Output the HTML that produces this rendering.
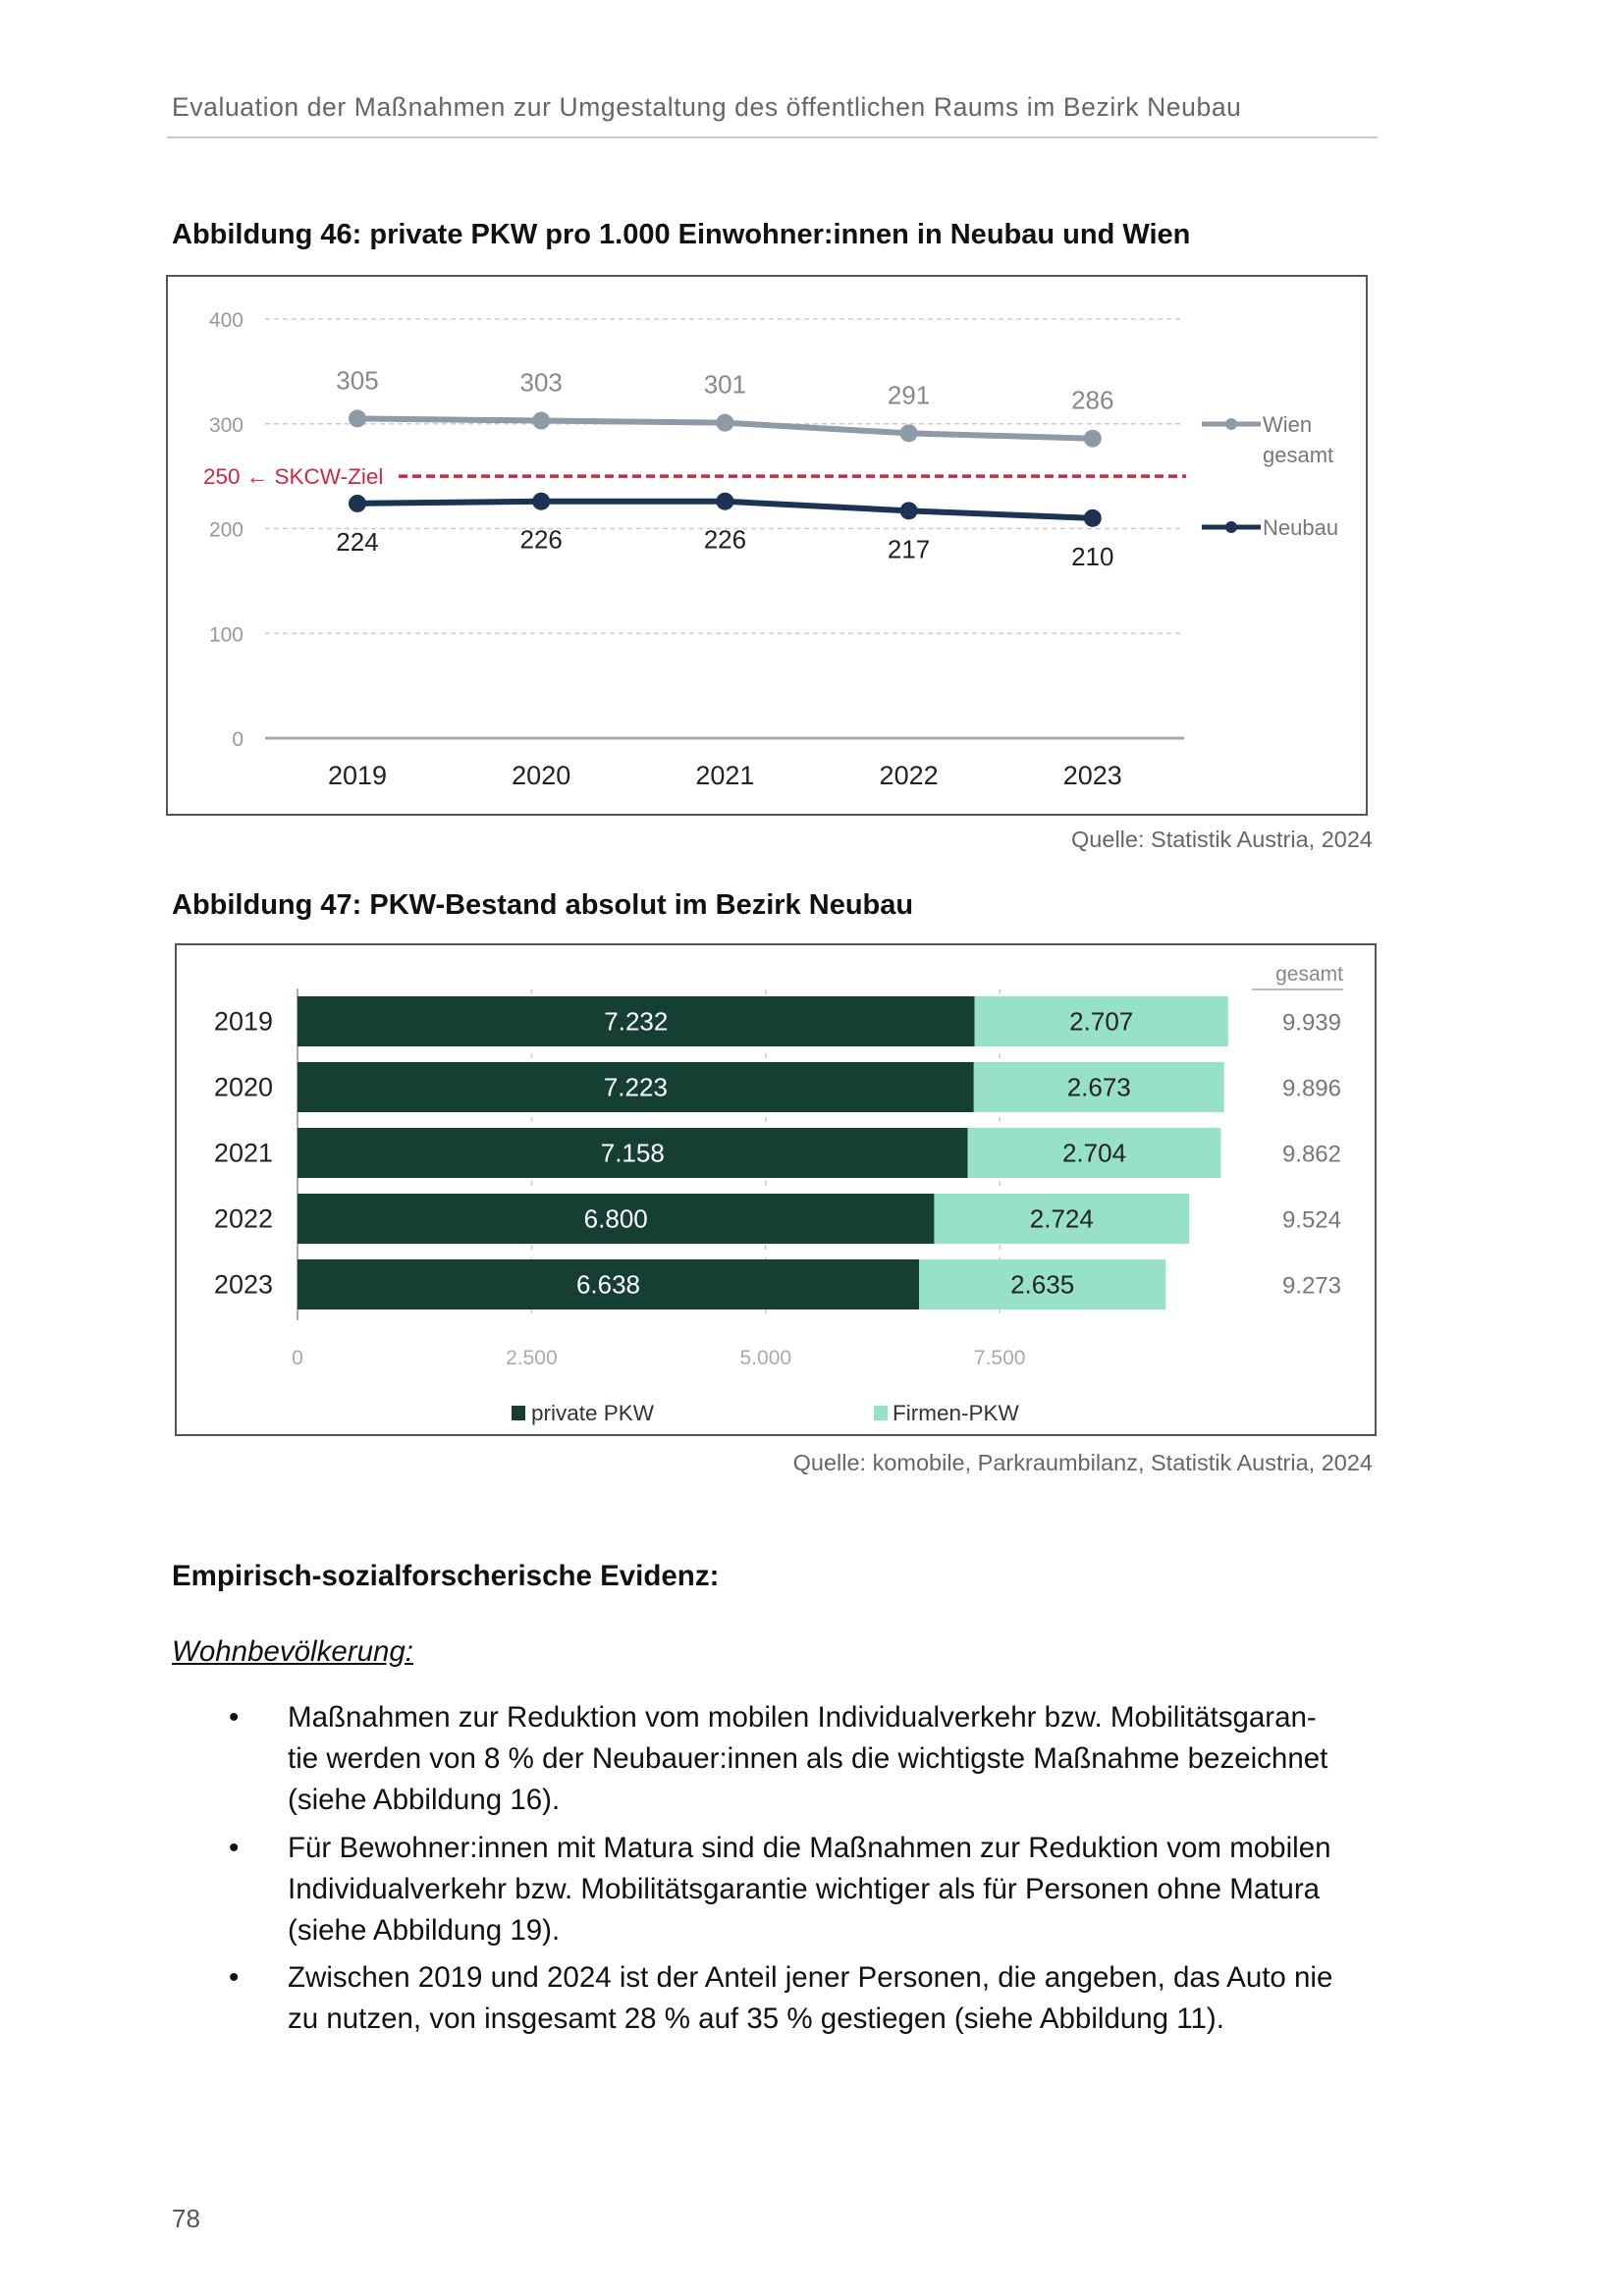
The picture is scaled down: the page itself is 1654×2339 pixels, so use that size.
<!DOCTYPE html>
<html><head><meta charset="utf-8">
<style>
body{margin:0;background:#fff;font-family:"Liberation Sans",sans-serif;}
#page{position:relative;width:1654px;height:2339px;overflow:hidden;background:#fff;}
.abs{position:absolute;white-space:nowrap;}
.body{font-size:29.5px;color:#111;}
</style></head><body>
<div id="page">
<div class="abs" style="left:175px;top:94px;font-size:26.5px;color:#666;letter-spacing:0.6px;">Evaluation der Maßnahmen zur Umgestaltung des öffentlichen Raums im Bezirk Neubau</div>
<div class="abs" style="left:170px;top:139px;width:1233px;height:2px;background:#ccc;"></div>

<div class="abs" style="left:175px;top:223px;font-size:29px;font-weight:bold;color:#111;">Abbildung 46: private PKW pro 1.000 Einwohner:innen in Neubau und Wien</div>
<svg class="abs" id="c1" style="left:0;top:0;" width="1654" height="900"></svg>
<div class="abs" style="right:256px;top:842px;font-size:23.5px;color:#666;">Quelle: Statistik Austria, 2024</div>

<div class="abs" style="left:175px;top:906px;font-size:29px;font-weight:bold;color:#111;">Abbildung 47: PKW-Bestand absolut im Bezirk Neubau</div>
<svg class="abs" id="c2" style="left:0;top:0;" width="1654" height="1500"></svg>
<div class="abs" style="right:256px;top:1477px;font-size:23.5px;color:#666;">Quelle: komobile, Parkraumbilanz, Statistik Austria, 2024</div>

<div class="abs body" style="left:175px;top:1589px;font-weight:bold;">Empirisch-sozialforscherische Evidenz:</div>
<div class="abs body" style="left:175px;top:1666px;font-style:italic;text-decoration:underline;">Wohnbevölkerung:</div>
<div>
<div class="abs body" style="left:233px;top:1729px;line-height:42px;">•</div>
<div class="abs body" style="left:293px;top:1729px;line-height:42px;">Maßnahmen zur Reduktion vom mobilen Individualverkehr bzw. Mobilitätsgaran-<br>tie werden von 8 % der Neubauer:innen als die wichtigste Maßnahme bezeichnet<br>(siehe Abbildung 16).</div>
<div class="abs body" style="left:233px;top:1862px;line-height:42px;">•</div>
<div class="abs body" style="left:293px;top:1862px;line-height:42px;">Für Bewohner:innen mit Matura sind die Maßnahmen zur Reduktion vom mobilen<br>Individualverkehr bzw. Mobilitätsgarantie wichtiger als für Personen ohne Matura<br>(siehe Abbildung 19).</div>
<div class="abs body" style="left:233px;top:1994px;line-height:42px;">•</div>
<div class="abs body" style="left:293px;top:1994px;line-height:42px;">Zwischen 2019 und 2024 ist der Anteil jener Personen, die angeben, das Auto nie<br>zu nutzen, von insgesamt 28 % auf 35 % gestiegen (siehe Abbildung 11).</div>
</div>
<div class="abs" style="left:175px;top:2245px;font-size:26px;color:#555;">78</div>
</div>
<script>
const NS="http://www.w3.org/2000/svg";
const years1=["2019","2020","2021","2022","2023"];
const wien=[305,303,301,291,286];
const neubau=[224,226,226,217,210];
const ticks1=[0,100,200,300,400];
const target=250;
const years2=["2019","2020","2021","2022","2023"];
const privat=[7232,7223,7158,6800,6638];
const firmen=[2707,2673,2704,2724,2635];
const ticks2=[0,2500,5000,7500];
const tickLabels2=["0","2.500","5.000","7.500"];

function mk(svg,tag,attrs,text){const e=document.createElementNS(NS,tag);for(const k in attrs)e.setAttribute(k,attrs[k]);if(text!==undefined)e.textContent=text;svg.appendChild(e);return e;}
const fmt=v=>{const s=String(v);return s.length>3?s.slice(0,-3)+"."+s.slice(-3):s;};

// Chart 1
const s1=document.getElementById('c1');
const y1=v=>752-v*1.0675;
const x1=i=>364+i*187.2;
let e=mk(s1,'rect',{x:170,y:281,width:1222,height:549,fill:'none',stroke:'#555','stroke-width':2});


ticks1.forEach(t=>{
  if(t>0){e=mk(s1,'line',{x1:270,x2:1206,y1:y1(t),y2:y1(t),stroke:'#ccc','stroke-width':1.5,'stroke-dasharray':'5,4'});
  
  }
  e=mk(s1,'text',{x:248,y:y1(t)+8,'text-anchor':'end','font-size':21,fill:'#999'},String(t));
  
  
});
e=mk(s1,'line',{x1:270,x2:1206,y1:y1(0),y2:y1(0),stroke:'#aaa','stroke-width':3});


e=mk(s1,'line',{x1:406,x2:1208,y1:y1(target),y2:y1(target),stroke:'#d0283c','stroke-width':3.5,'stroke-dasharray':'9,5'});


e=mk(s1,'text',{x:207,y:y1(target)+8,'font-size':22.5,fill:'#d0283c'},target+" \u2190 SKCW-Ziel");


years1.forEach((yr,i)=>{
  e=mk(s1,'text',{x:x1(i),y:799,'text-anchor':'middle','font-size':27,fill:'#222'},yr);
  
  
});
function series(vals,color,name,above){
  e=mk(s1,'polyline',{points:vals.map((v,i)=>x1(i)+","+y1(v)).join(" "),fill:'none',stroke:color,'stroke-width':6});
  
  
  vals.forEach((v,i)=>{
    e=mk(s1,'circle',{cx:x1(i),cy:y1(v),r:9,fill:color});
    
    
    e=mk(s1,'text',{x:x1(i),y:above?y1(v)-30:y1(v)+48,'text-anchor':'middle','font-size':26,fill:above?'#888':'#222'},String(v));
    
    
  });
}
series(wien,'#8e9aa8','wien',true);
series(neubau,'#1c3353','neubau',false);
e=mk(s1,'line',{x1:1224,x2:1284,y1:432,y2:432,stroke:'#8e9aa8','stroke-width':5});


mk(s1,'circle',{cx:1254,cy:432,r:6,fill:'#8e9aa8'});
e=mk(s1,'text',{x:1286,y:440,'font-size':22,fill:'#777'},"Wien");


e=mk(s1,'text',{x:1286,y:471,'font-size':22,fill:'#777'},"gesamt");


e=mk(s1,'line',{x1:1224,x2:1284,y1:537,y2:537,stroke:'#1c3353','stroke-width':5});


mk(s1,'circle',{cx:1254,cy:537,r:6,fill:'#1c3353'});
e=mk(s1,'text',{x:1286,y:545,'font-size':22,fill:'#777'},"Neubau");



// Chart 2
const s2=document.getElementById('c2');
const x2=v=>303+v*0.09536;
const yb=i=>1015+i*67;
e=mk(s2,'rect',{x:179,y:962,width:1222,height:500,fill:'none',stroke:'#555','stroke-width':2});


ticks2.forEach((t,i)=>{
  if(t>0){e=mk(s2,'line',{x1:x2(t),x2:x2(t),y1:1008,y2:1345,stroke:'#ccc','stroke-width':1.5,'stroke-dasharray':'5,8'});
  
  }
  e=mk(s2,'text',{x:x2(t),y:1390,'text-anchor':'middle','font-size':21,fill:'#aaa'},tickLabels2[i]);
  
  
});
e=mk(s2,'line',{x1:303,x2:303,y1:1007,y2:1345,stroke:'#aaa','stroke-width':2});


e=mk(s2,'text',{x:1368,y:999,'text-anchor':'end','font-size':21,fill:'#888'},"gesamt");


mk(s2,'line',{x1:1275,x2:1368,y1:1008,y2:1008,stroke:'#bbb','stroke-width':2});
years2.forEach((yr,i)=>{
  const y=yb(i),h=51;
  e=mk(s2,'text',{x:278,y:y+h/2+9,'text-anchor':'end','font-size':27,fill:'#222'},yr);
  
  
  e=mk(s2,'rect',{x:x2(0),y:y,width:x2(privat[i])-x2(0),height:h,fill:'#163f34'});
  
  
  e=mk(s2,'rect',{x:x2(privat[i]),y:y,width:x2(firmen[i])-x2(0),height:h,fill:'#97e1c9'});
  
  
  e=mk(s2,'text',{x:(x2(0)+x2(privat[i]))/2,y:y+h/2+9,'text-anchor':'middle','font-size':26,fill:'#fff'},fmt(privat[i]));
  
  
  e=mk(s2,'text',{x:x2(privat[i])+(x2(firmen[i])-x2(0))/2,y:y+h/2+9,'text-anchor':'middle','font-size':26,fill:'#222'},fmt(firmen[i]));
  
  
  e=mk(s2,'text',{x:1366,y:y+h/2+9,'text-anchor':'end','font-size':24,fill:'#777'},fmt(privat[i]+firmen[i]));
  
  
});
e=mk(s2,'rect',{x:521,y:1432,width:14,height:15,fill:'#163f34'});


e=mk(s2,'text',{x:541,y:1447,'font-size':22.5,fill:'#333'},"private PKW");


e=mk(s2,'rect',{x:890,y:1432,width:14,height:15,fill:'#97e1c9'});


e=mk(s2,'text',{x:909,y:1447,'font-size':22.5,fill:'#333'},"Firmen-PKW");


</script>
</body></html>
